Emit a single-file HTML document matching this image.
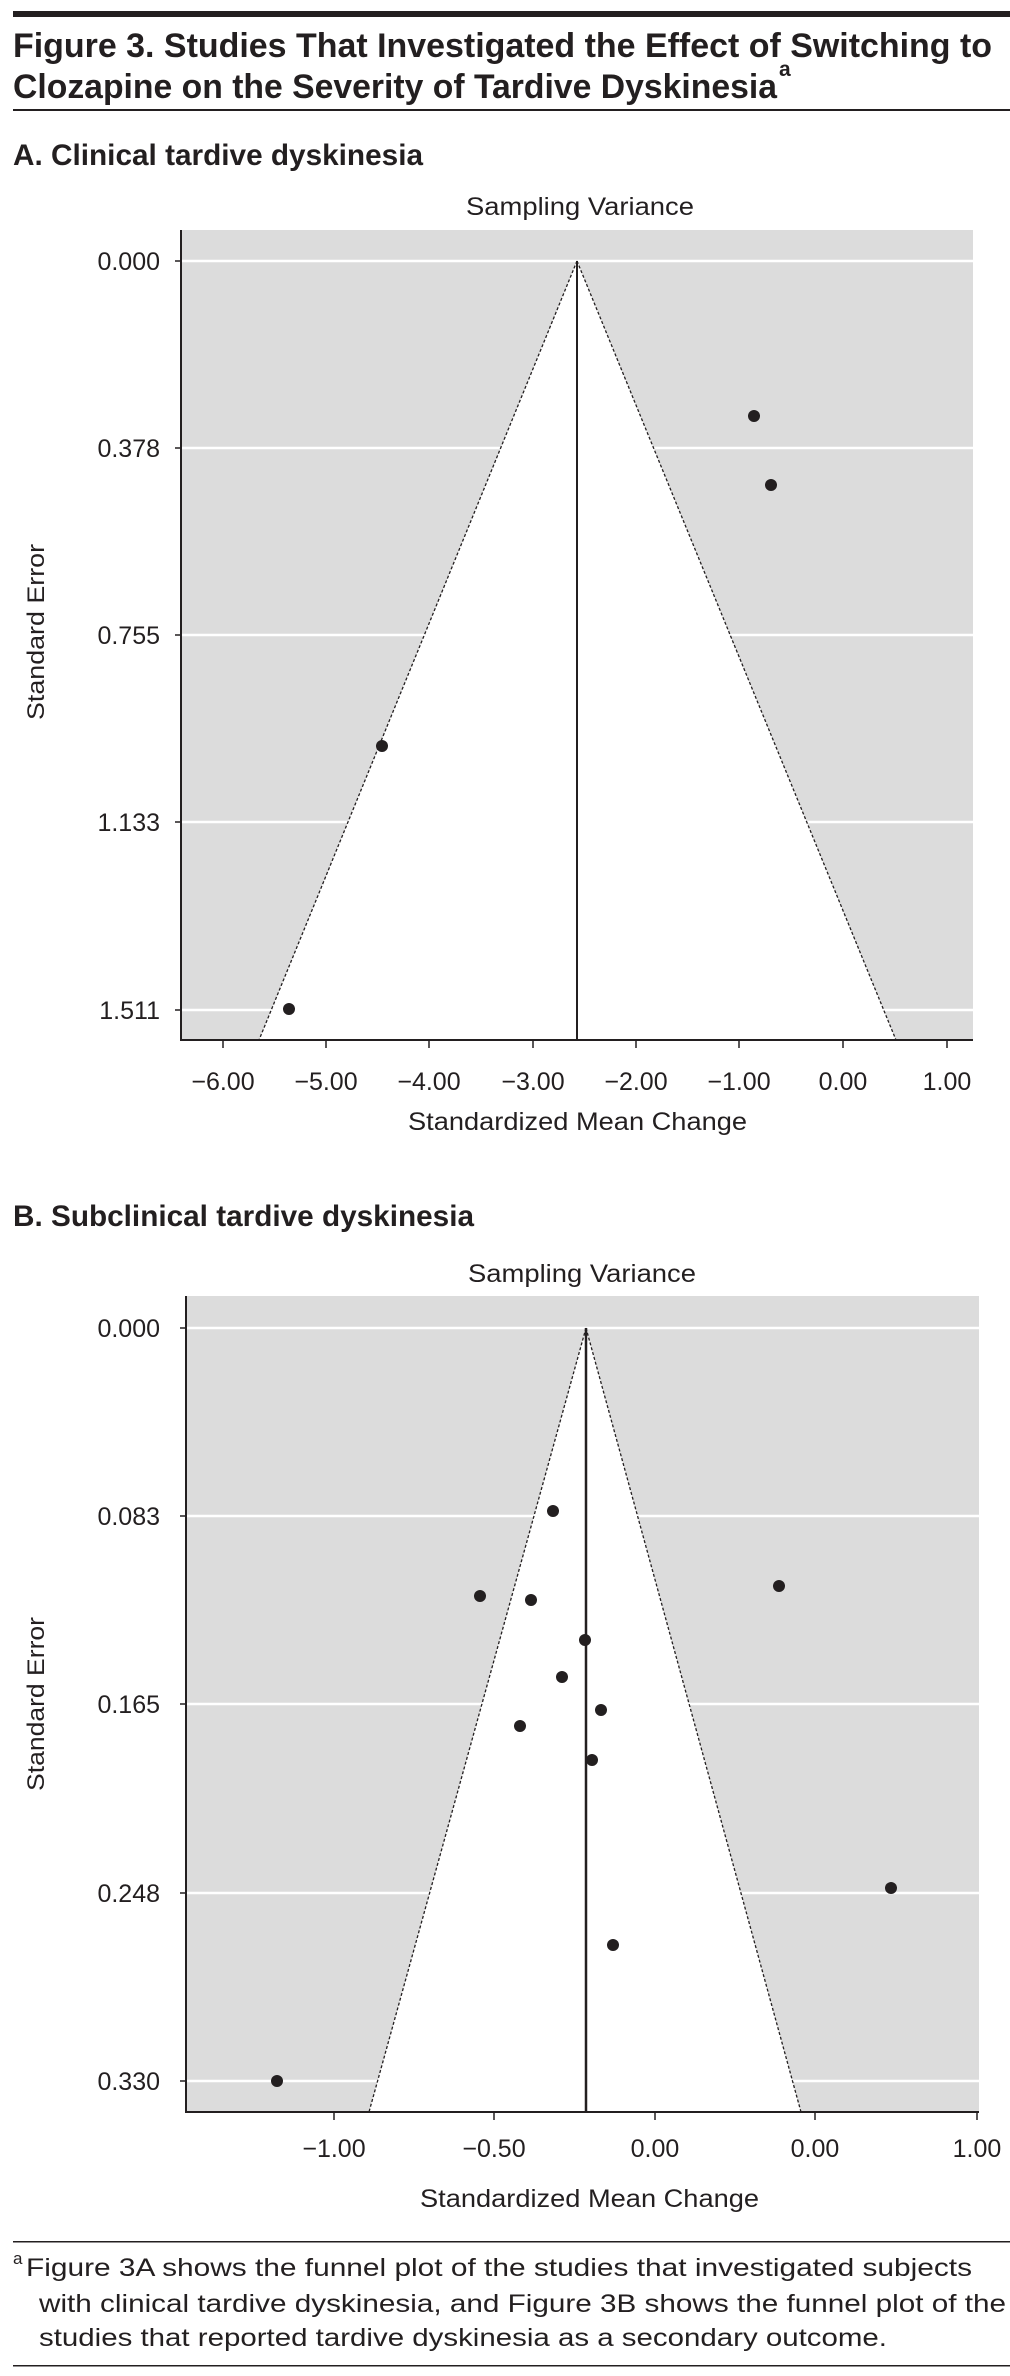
<!DOCTYPE html>
<html><head><meta charset="utf-8"><style>
html,body{margin:0;padding:0;background:#fff}
svg{display:block}
text{font-family:"Liberation Sans",sans-serif;fill:#231f20}
</style></head><body>
<svg width="1010" height="2376" viewBox="0 0 1010 2376" xmlns="http://www.w3.org/2000/svg">
<rect x="0" y="0" width="1010" height="2376" fill="#fff"/>
<rect x="13" y="11" width="997" height="6" fill="#231f20"/>
<text x="13" y="57" font-size="34" font-weight="bold" textLength="979" lengthAdjust="spacingAndGlyphs">Figure 3. Studies That Investigated the Effect of Switching to</text>
<text x="13" y="98" font-size="34" font-weight="bold" textLength="764" lengthAdjust="spacingAndGlyphs">Clozapine on the Severity of Tardive Dyskinesia</text>
<text x="779" y="76" font-size="21" font-weight="bold">a</text>
<rect x="13" y="109" width="997" height="2" fill="#231f20"/>

<text x="13" y="165" font-size="30" font-weight="bold" textLength="410" lengthAdjust="spacingAndGlyphs">A. Clinical tardive dyskinesia</text>
<text x="466" y="215" font-size="25" textLength="228" lengthAdjust="spacingAndGlyphs">Sampling Variance</text>
<rect x="181" y="230" width="792" height="810" fill="#dcdcdc"/>
<polygon points="577,261 259,1040 896,1040" fill="#fff"/>
<g stroke="#fff" stroke-width="2.5">
<line x1="181" y1="261" x2="973" y2="261"/><line x1="181" y1="448" x2="973" y2="448"/>
<line x1="181" y1="635" x2="973" y2="635"/><line x1="181" y1="822" x2="973" y2="822"/>
<line x1="181" y1="1010" x2="973" y2="1010"/>
</g>
<g stroke="#231f20" stroke-width="1.3" stroke-dasharray="3,2" fill="none">
<line x1="577" y1="261" x2="259" y2="1040"/><line x1="577" y1="261" x2="896" y2="1040"/>
</g>
<line x1="577" y1="261" x2="577" y2="1040" stroke="#231f20" stroke-width="2"/>
<line x1="181" y1="230" x2="181" y2="1041" stroke="#231f20" stroke-width="2"/>
<line x1="180" y1="1040" x2="973" y2="1040" stroke="#231f20" stroke-width="2"/>
<g stroke="#231f20" stroke-width="1.5">
<line x1="223" y1="1040" x2="223" y2="1048"/><line x1="326" y1="1040" x2="326" y2="1048"/><line x1="429" y1="1040" x2="429" y2="1048"/><line x1="533" y1="1040" x2="533" y2="1048"/><line x1="636" y1="1040" x2="636" y2="1048"/><line x1="739" y1="1040" x2="739" y2="1048"/><line x1="843" y1="1040" x2="843" y2="1048"/><line x1="947" y1="1040" x2="947" y2="1048"/>
<line x1="175" y1="261" x2="181" y2="261"/><line x1="175" y1="448" x2="181" y2="448"/><line x1="175" y1="635" x2="181" y2="635"/><line x1="175" y1="822" x2="181" y2="822"/><line x1="175" y1="1010" x2="181" y2="1010"/>
</g>
<g font-size="25" text-anchor="end">
<text x="160" y="270">0.000</text><text x="160" y="457">0.378</text><text x="160" y="644">0.755</text><text x="160" y="831">1.133</text><text x="160" y="1019">1.511</text>
</g>
<g font-size="25" text-anchor="middle">
<text x="223" y="1090">−6.00</text><text x="326" y="1090">−5.00</text><text x="429" y="1090">−4.00</text><text x="533" y="1090">−3.00</text><text x="636" y="1090">−2.00</text><text x="739" y="1090">−1.00</text><text x="843" y="1090">0.00</text><text x="947" y="1090">1.00</text>
</g>
<text x="408" y="1130" font-size="25" textLength="339" lengthAdjust="spacingAndGlyphs">Standardized Mean Change</text>
<text transform="translate(44,720) rotate(-90)" font-size="24" textLength="176" lengthAdjust="spacingAndGlyphs">Standard Error</text>
<g fill="#231f20">
<circle cx="754" cy="416" r="6"/><circle cx="771" cy="485" r="6"/><circle cx="382" cy="746" r="6"/><circle cx="289" cy="1009" r="6"/>
</g>

<text x="13" y="1226" font-size="30" font-weight="bold" textLength="461" lengthAdjust="spacingAndGlyphs">B. Subclinical tardive dyskinesia</text>
<text x="468" y="1282" font-size="25" textLength="228" lengthAdjust="spacingAndGlyphs">Sampling Variance</text>
<rect x="186" y="1296" width="793" height="816" fill="#dcdcdc"/>
<g stroke="#fff" stroke-width="2.5">
<line x1="186" y1="1328" x2="979" y2="1328"/><line x1="186" y1="1516" x2="979" y2="1516"/>
<line x1="186" y1="1704" x2="979" y2="1704"/><line x1="186" y1="1893" x2="979" y2="1893"/>
<line x1="186" y1="2081" x2="979" y2="2081"/>
</g>
<polygon points="586,1328 369,2112 801,2112" fill="#fff"/>
<g stroke="#231f20" stroke-width="1.3" stroke-dasharray="3,2" fill="none">
<line x1="586" y1="1328" x2="369" y2="2112"/><line x1="586" y1="1328" x2="801" y2="2112"/>
</g>
<line x1="586" y1="1328" x2="586" y2="2112" stroke="#231f20" stroke-width="2.5"/>
<line x1="186" y1="1296" x2="186" y2="2113" stroke="#231f20" stroke-width="2"/>
<line x1="185" y1="2112" x2="979" y2="2112" stroke="#231f20" stroke-width="2"/>
<g stroke="#231f20" stroke-width="1.5">
<line x1="334" y1="2112" x2="334" y2="2120"/><line x1="494" y1="2112" x2="494" y2="2120"/><line x1="655" y1="2112" x2="655" y2="2120"/><line x1="815" y1="2112" x2="815" y2="2120"/><line x1="977" y1="2112" x2="977" y2="2120"/>
<line x1="180" y1="1328" x2="186" y2="1328"/><line x1="180" y1="1516" x2="186" y2="1516"/><line x1="180" y1="1704" x2="186" y2="1704"/><line x1="180" y1="1893" x2="186" y2="1893"/><line x1="180" y1="2081" x2="186" y2="2081"/>
</g>
<g font-size="25" text-anchor="end">
<text x="160" y="1337">0.000</text><text x="160" y="1525">0.083</text><text x="160" y="1713">0.165</text><text x="160" y="1902">0.248</text><text x="160" y="2090">0.330</text>
</g>
<g font-size="25" text-anchor="middle">
<text x="334" y="2157">−1.00</text><text x="494" y="2157">−0.50</text><text x="655" y="2157">0.00</text><text x="815" y="2157">0.00</text><text x="977" y="2157">1.00</text>
</g>
<text x="420" y="2207" font-size="25" textLength="339" lengthAdjust="spacingAndGlyphs">Standardized Mean Change</text>
<text transform="translate(44,1791) rotate(-90)" font-size="24" textLength="174" lengthAdjust="spacingAndGlyphs">Standard Error</text>
<g fill="#231f20">
<circle cx="553" cy="1511" r="6"/><circle cx="480" cy="1596" r="6"/><circle cx="531" cy="1600" r="6"/><circle cx="779" cy="1586" r="6"/>
<circle cx="585" cy="1640" r="6"/><circle cx="562" cy="1677" r="6"/><circle cx="601" cy="1710" r="6"/><circle cx="520" cy="1726" r="6"/>
<circle cx="592" cy="1760" r="6"/><circle cx="891" cy="1888" r="6"/><circle cx="613" cy="1945" r="6"/><circle cx="277" cy="2081" r="6"/>
</g>

<rect x="13" y="2241" width="997" height="1.5" fill="#231f20"/>
<text x="13" y="2264" font-size="17">a</text>
<text x="26" y="2276" font-size="25" textLength="946" lengthAdjust="spacingAndGlyphs">Figure 3A shows the funnel plot of the studies that investigated subjects</text>
<text x="39" y="2312" font-size="25" textLength="967" lengthAdjust="spacingAndGlyphs">with clinical tardive dyskinesia, and Figure 3B shows the funnel plot of the</text>
<text x="39" y="2346" font-size="25" textLength="848" lengthAdjust="spacingAndGlyphs">studies that reported tardive dyskinesia as a secondary outcome.</text>
<rect x="13" y="2365" width="997" height="1.5" fill="#231f20"/>
</svg>
</body></html>
